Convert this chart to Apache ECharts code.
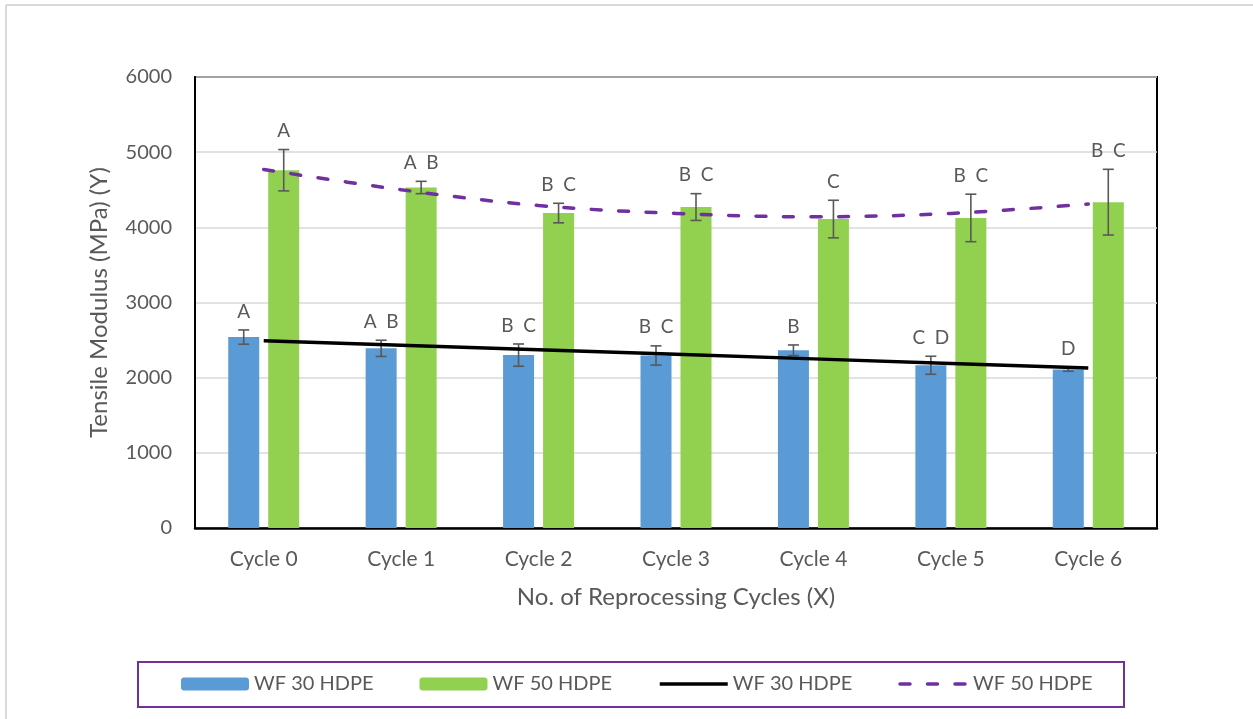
<!DOCTYPE html>
<html>
<head>
<meta charset="utf-8">
<title>Tensile Modulus vs Reprocessing Cycles</title>
<script src="https://cdn.jsdelivr.net/npm/echarts@6/dist/echarts.min.js"></script>
<style>
  html, body { margin: 0; padding: 0; background: #ffffff; }
  #chart { width: 1253px; height: 719px; }
</style>
</head>
<body>
<div id="chart"></div>
<script>
// Categories and measured values (MPa)
const categories = ['Cycle 0', 'Cycle 1', 'Cycle 2', 'Cycle 3', 'Cycle 4', 'Cycle 5', 'Cycle 6'];
const wf30Mean = [2540, 2390, 2300, 2295, 2365, 2165, 2110];
const wf30Err = [95, 108, 148, 128, 70, 120, 25];
const wf50Mean = [4760, 4530, 4190, 4270, 4110, 4125, 4335];
const wf50Err = [275, 82, 130, 178, 250, 316, 437];
// Statistical grouping letters
const wf30Letters = ['A', 'A  B', 'B  C', 'B  C', 'B', 'C  D', 'D'];
const wf50Letters = ['A', 'A  B', 'B  C', 'B  C', 'C', 'B  C', 'B  C'];
// Trend lines (linear for WF 30, polynomial for WF 50)
const wf30Trend = [2490, 2430, 2370, 2310, 2250, 2190, 2130];
const wf50Trend = [4770, 4500, 4290, 4185, 4140, 4185, 4310];

const FONT = 'Lato, "Open Sans", sans-serif';
const TEXT = '#595959';
const BAR_W = 31;
const BAR_GAP = 9;
const HALF = (BAR_W + BAR_GAP) / 2;

function errorBars(means, errs, letters, dx) {
  return {
    type: 'custom',
    z: 5,
    silent: true,
    data: means.map((m, i) => [i, m, errs[i]]),
    renderItem: function (params, api) {
      const i = api.value(0);
      const m = api.value(1);
      const e = api.value(2);
      const top = api.coord([i, m + e]);
      const bot = api.coord([i, m - e]);
      const x = top[0] + dx;
      const cap = 5.5;
      const style = { stroke: '#595959', lineWidth: 1.6 };
      return {
        type: 'group',
        children: [
          { type: 'line', shape: { x1: x, y1: top[1], x2: x, y2: bot[1] }, style: style },
          { type: 'line', shape: { x1: x - cap, y1: top[1], x2: x + cap, y2: top[1] }, style: style },
          { type: 'line', shape: { x1: x - cap, y1: bot[1], x2: x + cap, y2: bot[1] }, style: style },
          {
            type: 'text',
            style: {
              x: x, y: top[1] - 9,
              text: letters[i],
              fill: TEXT,
              font: '19px ' + FONT,
              align: 'center',
              verticalAlign: 'bottom'
            }
          }
        ]
      };
    }
  };
}

const chart = echarts.init(document.getElementById('chart'), null, { renderer: 'canvas' });

chart.setOption({
  backgroundColor: '#ffffff',
  animation: false,
  textStyle: { fontFamily: FONT },
  grid: {
    left: 195, right: 96, top: 77, bottom: 191,
    show: true, borderColor: '#000000', borderWidth: 2,
    containLabel: false
  },
  graphic: [
    { type: 'line', shape: { x1: 6, y1: 5, x2: 1253, y2: 5 }, style: { stroke: '#d9d9d9', lineWidth: 2 } },
    { type: 'line', shape: { x1: 6, y1: 5, x2: 6, y2: 719 }, style: { stroke: '#d9d9d9', lineWidth: 2 } },
    { type: 'rect', shape: { x: 138, y: 662, width: 986, height: 45 }, style: { fill: 'none', stroke: '#7030a0', lineWidth: 2 }, z: -1 }
  ],
  legend: {
    left: 181, top: 674,
    padding: 0,
    itemWidth: 68, itemHeight: 13,
    itemGap: 46,
    data: [
      { name: 'WF 30 HDPE' },
      { name: 'WF 50 HDPE' },
      { name: 'WF 30 HDPE ', itemStyle: { opacity: 0 }, lineStyle: { width: 3.5 } },
      { name: 'WF 50 HDPE ', itemStyle: { opacity: 0 }, lineStyle: { width: 3.5 } }
    ],
    formatter: name => name.trim(),
    textStyle: { color: TEXT, fontSize: 20, fontFamily: FONT }
  },
  xAxis: {
    type: 'category',
    data: categories,
    axisTick: { show: false },
    axisLine: { lineStyle: { color: '#000000', width: 2.5 } },
    axisLabel: { color: TEXT, fontSize: 21, margin: 21 },
    name: 'No. of Reprocessing Cycles (X)',
    nameLocation: 'middle',
    nameGap: 57,
    nameTextStyle: { color: TEXT, fontSize: 24 }
  },
  yAxis: {
    type: 'value',
    min: 0, max: 6000, interval: 1000,
    axisLine: { show: true, lineStyle: { color: '#000000', width: 2 } },
    axisTick: { show: false },
    axisLabel: { color: TEXT, fontSize: 20, margin: 23, formatter: v => String(v) },
    splitLine: { lineStyle: { color: '#d9d9d9', width: 1.5 } },
    name: 'Tensile Modulus (MPa) (Y)',
    nameLocation: 'middle',
    nameGap: 84,
    nameTextStyle: { color: TEXT, fontSize: 24 }
  },
  series: [
    {
      name: 'WF 30 HDPE', type: 'bar', data: wf30Mean,
      barWidth: BAR_W, barGap: (BAR_GAP / BAR_W * 100).toFixed(0) + '%',
      itemStyle: { color: '#5b9bd5' }
    },
    {
      name: 'WF 50 HDPE', type: 'bar', data: wf50Mean,
      barWidth: BAR_W,
      itemStyle: { color: '#92d050' }
    },
    errorBars(wf30Mean, wf30Err, wf30Letters, -HALF),
    errorBars(wf50Mean, wf50Err, wf50Letters, HALF),
    {
      name: 'WF 30 HDPE ', type: 'line', data: wf30Trend,
      symbol: 'none', z: 6,
      lineStyle: { color: '#000000', width: 3.5 },
      itemStyle: { color: '#000000' }
    },
    {
      name: 'WF 50 HDPE ', type: 'line', data: wf50Trend,
      symbol: 'none', z: 6, smooth: 0.35,
      lineStyle: { color: '#7030a0', width: 3.5, type: [10, 17.5], cap: 'round' },
      itemStyle: { color: '#7030a0' }
    }
  ]
});
</script>
</body>
</html>
